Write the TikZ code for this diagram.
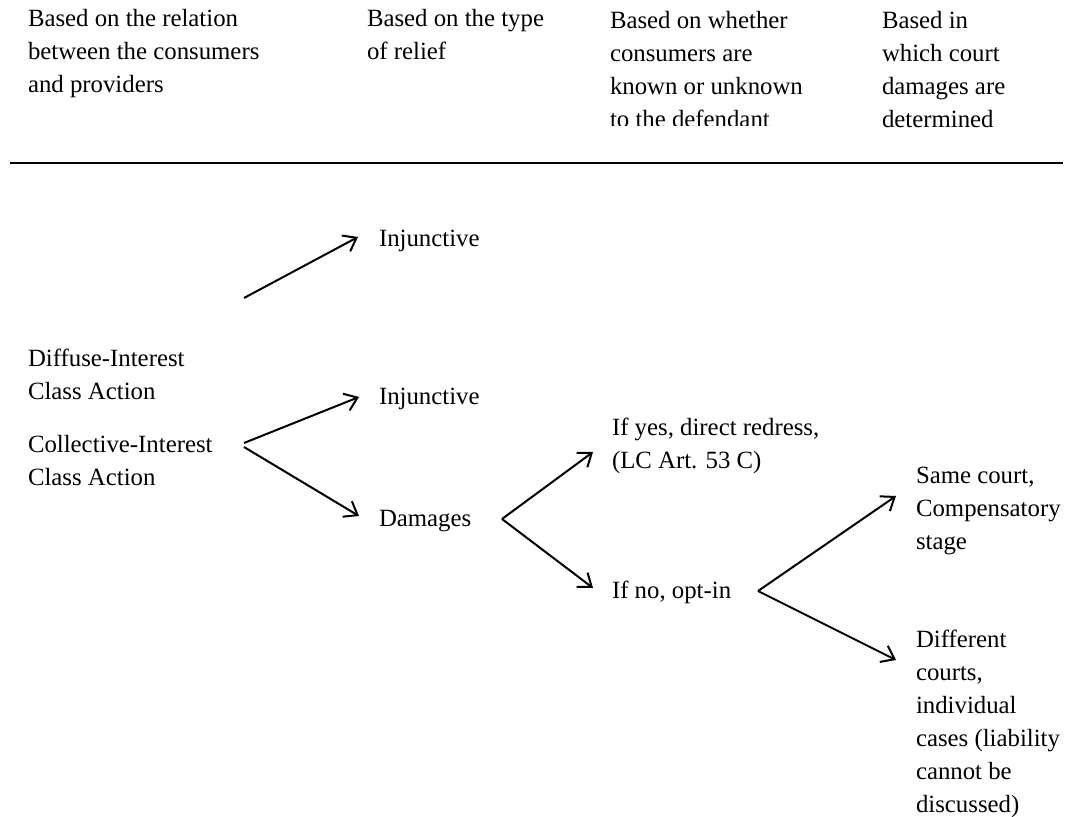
\documentclass[tikz,border=0pt]{standalone}
\usepackage{fontspec}
\setmainfont{Liberation Serif}
\usetikzlibrary{arrows.meta}
\begin{document}
\begin{tikzpicture}[x=0.5pt,y=-0.5pt,
  txt/.style={anchor=base west, inner sep=0pt, outer sep=0pt, align=left,
    font=\fontsize{12.4}{16.5}\selectfont},
  arr/.style={line width=1pt,
    -{Straight Barb[length=6pt,width=9pt,line width=1pt]}},
  rulestyle/.style={line width=1.3pt}
]
\useasboundingbox (0,0) rectangle (1069,817);
% header (anchors are at the baseline of the last line)
\node[txt] (h1) at (28,93) {Based on the relation\\between the consumers\\and providers};
\node[txt] (h2) at (367,60) {Based on the type\\of relief};
\begin{scope}
  \clip (600,0) rectangle (870,126);
  \node[txt] (h3) at (610,128) {Based on whether\\consumers are\\known or unknown\\to the defendant};
\end{scope}
\node[txt] (h4) at (882,128) {Based in\\which court\\damages are\\determined};
\coordinate (ruleL) at (10,163);
\coordinate (ruleR) at (1063,163);
\draw[rulestyle] (ruleL) -- (ruleR);
% body
\node[txt] (inj1) at (379,247) {Injunctive};
\node[txt] (diff) at (28,400) {Diffuse-Interest\\Class Action};
\node[txt] (inj2) at (379,405) {Injunctive};
\node[txt] (coll) at (28,485) {Collective-Interest\\Class Action};
\node[txt] (dam) at (379,526) {Damages};
\node[txt] (yes) at (612,468) {If yes, direct redress,\\(LC Art. 53 C)};
\node[txt] (no) at (612,598) {If no, opt-in};
\node[txt] (same) at (916,549) {Same court,\\Compensatory\\stage};
\node[txt] (diffc) at (916,812) {Different\\courts,\\individual\\cases (liability\\cannot be\\discussed)};
% arrows
\draw[arr] ([shift={(216,-102)}]diff.base west) -- ([shift={(-21,-10)}]inj1.base west);
\draw[arr] ([shift={(216,-42)}]coll.base west) -- ([shift={(-20,-8)}]inj2.base west);
\draw[arr] ([shift={(216,-38)}]coll.base west) -- ([shift={(-20,-10)}]dam.base west);
\draw[arr] ([shift={(123,-7)}]dam.base west) -- ([shift={(-19,-16)}]yes.base west);
\draw[arr] ([shift={(123,-7)}]dam.base west) -- ([shift={(-19,-10)}]no.base west);
\draw[arr] ([shift={(146,-7)}]no.base west) -- ([shift={(-20,-53)}]same.base west);
\draw[arr] ([shift={(146,-7)}]no.base west) -- ([shift={(-20,-152)}]diffc.base west);
\end{tikzpicture}
\end{document}
